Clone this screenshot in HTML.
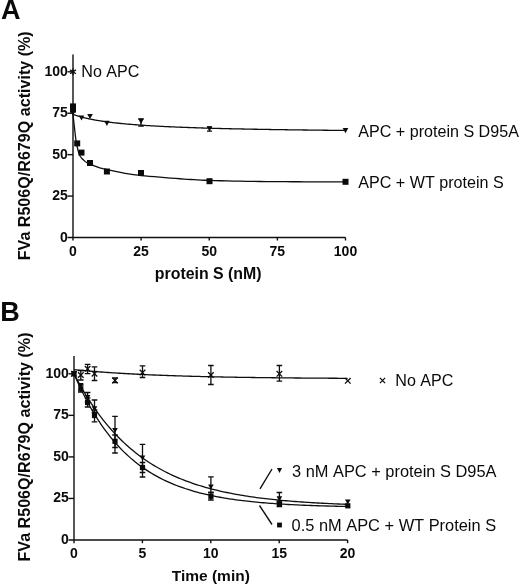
<!DOCTYPE html>
<html lang="en"><head><meta charset="utf-8"><title>FVa R506Q/R679Q activity</title>
<style>
html,body{margin:0;padding:0;background:#fff;}
body{width:520px;height:586px;overflow:hidden;}
svg{display:block;}
text{font-family:"Liberation Sans", Arial, Helvetica, sans-serif;fill:#0a0a0a;}
.b{font-weight:bold;}
.tk{font-weight:bold;font-size:14px;}
.ax{font-weight:bold;font-size:15.9px;}
.yl{font-weight:bold;font-size:16.1px;}
.lg{font-size:16.1px;font-kerning:none;}
.pl{font-weight:bold;font-size:27px;}
.ln{stroke:#101010;stroke-width:1.4;fill:none;stroke-linecap:butt;}
.cv{stroke:#0e0e0e;stroke-width:1.3;fill:none;stroke-linejoin:round;}
.eb{stroke:#0e0e0e;stroke-width:1.3;fill:none;}
.mk{fill:#0a0a0a;stroke:none;}
.xm{stroke:#0e0e0e;stroke-width:1.3;fill:none;}
</style></head><body>
<svg width="520" height="586" viewBox="0 0 520 586">
<rect x="0" y="0" width="520" height="586" fill="#ffffff"/>

<text class="pl" x="0.9" y="19.1">A</text>
<path class="ln" d="M73.0 54.5V240.5M67.5 237.5H345.5"/>
<path class="ln" d="M67.5 196.07H73.0"/>
<path class="ln" d="M67.5 154.65H73.0"/>
<path class="ln" d="M67.5 113.22H73.0"/>
<path class="ln" d="M67.5 71.80H73.0"/>
<path class="ln" d="M141.12 237.5V240.5"/>
<path class="ln" d="M209.25 237.5V240.5"/>
<path class="ln" d="M277.38 237.5V240.5"/>
<path class="ln" d="M345.50 237.5V240.5"/>
<text class="tk" x="67.9" y="241.50" text-anchor="end">0</text>
<text class="tk" x="67.9" y="200.07" text-anchor="end">25</text>
<text class="tk" x="67.9" y="158.65" text-anchor="end">50</text>
<text class="tk" x="67.9" y="117.22" text-anchor="end">75</text>
<text class="tk" x="67.9" y="75.80" text-anchor="end">100</text>
<text class="tk" x="73.00" y="256.4" text-anchor="middle">0</text>
<text class="tk" x="141.12" y="256.4" text-anchor="middle">25</text>
<text class="tk" x="209.25" y="256.4" text-anchor="middle">50</text>
<text class="tk" x="277.38" y="256.4" text-anchor="middle">75</text>
<text class="tk" x="345.50" y="256.4" text-anchor="middle">100</text>
<text class="ax" x="208.2" y="278.9" text-anchor="middle">protein S (nM)</text>
<text class="yl" transform="translate(30 145.8) rotate(-90)" text-anchor="middle">FVa R506Q/R679Q activity (%)</text>
<path class="cv" d="M73.00 114.38L73.01 114.39L73.03 114.39L73.06 114.41L73.11 114.42L73.17 114.45L73.25 114.47L73.33 114.50L73.44 114.54L73.55 114.58L73.68 114.63L73.82 114.68L73.98 114.73L74.15 114.79L74.34 114.85L74.53 114.92L74.74 114.99L74.97 115.07L75.21 115.15L75.46 115.23L75.72 115.32L76.00 115.41L76.30 115.50L76.60 115.60L76.92 115.70L77.26 115.80L77.61 115.91L77.97 116.02L78.34 116.13L78.73 116.25L79.13 116.36L79.55 116.48L79.98 116.61L80.42 116.73L80.88 116.85L81.35 116.98L81.83 117.11L82.33 117.24L82.84 117.37L83.36 117.51L83.90 117.64L84.45 117.78L85.02 117.92L85.60 118.05L86.19 118.19L86.80 118.33L87.42 118.47L88.05 118.61L88.70 118.75L89.36 118.89L90.03 119.03L90.72 119.17L91.42 119.31L92.14 119.46L92.87 119.60L93.61 119.74L94.36 119.88L95.13 120.02L95.92 120.16L96.71 120.30L97.53 120.43L98.35 120.57L99.19 120.71L100.04 120.85L100.90 120.98L101.78 121.12L102.68 121.25L103.58 121.38L104.50 121.52L105.43 121.65L106.38 121.78L107.34 121.91L108.32 122.04L109.30 122.16L110.31 122.29L111.32 122.41L112.35 122.54L113.39 122.66L114.45 122.78L115.52 122.90L116.60 123.02L117.70 123.14L118.81 123.26L119.93 123.37L121.07 123.49L122.22 123.60L123.39 123.72L124.56 123.83L125.76 123.94L126.96 124.04L128.18 124.15L129.41 124.26L130.66 124.36L131.92 124.47L133.20 124.57L134.48 124.67L135.78 124.77L137.10 124.87L138.43 124.97L139.77 125.06L141.12 125.16L142.49 125.25L143.88 125.35L145.27 125.44L146.68 125.53L148.11 125.62L149.55 125.71L151.00 125.79L152.46 125.88L153.94 125.96L155.43 126.05L156.94 126.13L158.46 126.21L159.99 126.29L161.54 126.37L163.10 126.45L164.67 126.53L166.26 126.61L167.86 126.68L169.47 126.76L171.10 126.83L172.74 126.90L174.40 126.97L176.07 127.05L177.75 127.12L179.45 127.18L181.16 127.25L182.88 127.32L184.62 127.39L186.37 127.45L188.13 127.51L189.91 127.58L191.70 127.64L193.51 127.70L195.33 127.76L197.16 127.82L199.00 127.88L200.86 127.94L202.74 128.00L204.62 128.06L206.52 128.11L208.44 128.17L210.37 128.22L212.31 128.28L214.26 128.33L216.23 128.39L218.22 128.44L220.21 128.49L222.22 128.54L224.24 128.59L226.28 128.64L228.33 128.69L230.40 128.74L232.47 128.78L234.57 128.83L236.67 128.88L238.79 128.92L240.92 128.97L243.07 129.01L245.23 129.06L247.40 129.10L249.59 129.14L251.79 129.18L254.00 129.23L256.23 129.27L258.47 129.31L260.73 129.35L262.99 129.39L265.28 129.43L267.57 129.47L269.88 129.50L272.20 129.54L274.54 129.58L276.89 129.62L279.26 129.65L281.63 129.69L284.02 129.72L286.43 129.76L288.85 129.79L291.28 129.83L293.73 129.86L296.18 129.89L298.66 129.93L301.14 129.96L303.64 129.99L306.16 130.02L308.69 130.06L311.23 130.09L313.78 130.12L316.35 130.15L318.93 130.18L321.53 130.21L324.14 130.24L326.76 130.26L329.40 130.29L332.05 130.32L334.71 130.35L337.39 130.38L340.08 130.40L342.78 130.43L345.50 130.46"/>
<path class="cv" d="M73.00 114.20L73.12 115.27L73.27 116.70L73.45 118.40L73.65 120.28L73.86 122.27L74.08 124.28L74.30 126.21L74.50 128.00L74.70 129.71L74.90 131.46L75.10 133.21L75.30 134.95L75.50 136.64L75.70 138.24L75.90 139.74L76.10 141.10L76.29 142.31L76.48 143.39L76.67 144.37L76.85 145.27L77.03 146.11L77.22 146.91L77.41 147.70L77.60 148.50L77.79 149.30L77.99 150.08L78.18 150.84L78.38 151.56L78.58 152.25L78.78 152.91L78.99 153.53L79.20 154.10L79.41 154.62L79.63 155.09L79.85 155.52L80.08 155.91L80.30 156.28L80.53 156.63L80.76 156.96L81.00 157.30L81.23 157.62L81.46 157.91L81.69 158.19L81.92 158.44L82.17 158.70L82.42 158.95L82.70 159.22L83.00 159.50L83.32 159.80L83.66 160.11L84.01 160.43L84.38 160.76L84.76 161.08L85.16 161.40L85.57 161.70L86.00 162.00L86.42 162.27L86.84 162.53L87.25 162.77L87.69 163.01L88.16 163.26L88.70 163.51L89.30 163.79L90.00 164.10L90.80 164.44L91.70 164.82L92.67 165.22L93.69 165.63L94.76 166.04L95.84 166.45L96.93 166.84L98.00 167.20L99.01 167.52L99.95 167.82L100.87 168.09L101.82 168.36L102.85 168.64L104.01 168.92L105.34 169.24L106.90 169.60L108.74 170.01L110.83 170.47L113.11 170.96L115.51 171.46L117.96 171.97L120.41 172.45L122.78 172.90L125.00 173.30L126.94 173.64L128.61 173.93L130.14 174.19L131.69 174.43L133.41 174.66L135.43 174.91L137.91 175.19L141.00 175.50L144.84 175.87L149.36 176.28L154.36 176.71L159.66 177.16L165.06 177.60L170.38 178.03L175.42 178.41L180.00 178.75L184.00 179.04L187.55 179.29L190.84 179.51L194.03 179.71L197.32 179.89L200.87 180.06L204.87 180.23L209.50 180.40L214.81 180.57L220.66 180.73L226.92 180.89L233.47 181.03L240.18 181.17L246.92 181.29L253.57 181.40L260.00 181.50L266.37 181.58L272.88 181.64L279.42 181.68L285.94 181.71L292.33 181.74L298.53 181.76L304.45 181.78L310.00 181.80L315.37 181.82L320.73 181.84L325.93 181.86L330.88 181.87L335.42 181.88L339.46 181.89L342.86 181.89L345.50 181.90"/>
<path class="eb" d="M141.00 118.90V126.20M138.20 118.90H143.80M138.20 126.20H143.80"/>
<path class="eb" d="M209.50 127.20V131.20M207.00 127.20H212.00M207.00 131.20H212.00"/>
<rect class="mk" x="70.00" y="103.40" width="6.0" height="6.0"/>
<rect class="mk" x="70.00" y="106.60" width="6.0" height="6.0"/>
<rect class="mk" x="74.20" y="140.40" width="6.0" height="6.0"/>
<rect class="mk" x="78.50" y="149.60" width="6.0" height="6.0"/>
<rect class="mk" x="87.00" y="160.00" width="6.0" height="6.0"/>
<rect class="mk" x="103.90" y="168.50" width="6.0" height="6.0"/>
<rect class="mk" x="138.00" y="170.00" width="6.0" height="6.0"/>
<rect class="mk" x="206.50" y="178.20" width="6.0" height="6.0"/>
<rect class="mk" x="342.50" y="178.80" width="6.0" height="6.0"/>
<path class="mk" d="M70.20 110.40H75.80L73.00 115.60Z"/>
<path class="mk" d="M78.70 115.40H84.30L81.50 120.60Z"/>
<path class="mk" d="M87.20 113.90H92.80L90.00 119.10Z"/>
<path class="mk" d="M104.10 120.80H109.70L106.90 126.00Z"/>
<path class="mk" d="M138.20 118.70H143.80L141.00 123.90Z"/>
<path class="mk" d="M206.70 126.20H212.30L209.50 131.40Z"/>
<path class="mk" d="M342.70 128.00H348.30L345.50 133.20Z"/>
<path class="xm" d="M73 68.4V75.2M70.1 69.9L75.9 73.7M70.1 73.7L75.9 69.9"/>
<text class="lg" x="81.3" y="77.4">No APC</text>
<text class="lg" x="358.3" y="136.6">APC + protein S D95A</text>
<text class="lg" x="358.3" y="188">APC + WT protein S</text>
<text class="pl" x="0.2" y="320.8">B</text>
<path class="ln" d="M74.0 356V543.2M68.5 540.0H347.6"/>
<path class="ln" d="M68.5 498.45H74.0"/>
<path class="ln" d="M68.5 456.90H74.0"/>
<path class="ln" d="M68.5 415.35H74.0"/>
<path class="ln" d="M68.5 373.80H74.0"/>
<path class="ln" d="M142.40 540.0V543.2"/>
<path class="ln" d="M210.80 540.0V543.2"/>
<path class="ln" d="M279.20 540.0V543.2"/>
<path class="ln" d="M347.60 540.0V543.2"/>
<text class="tk" x="68.9" y="544.00" text-anchor="end">0</text>
<text class="tk" x="68.9" y="502.45" text-anchor="end">25</text>
<text class="tk" x="68.9" y="460.90" text-anchor="end">50</text>
<text class="tk" x="68.9" y="419.35" text-anchor="end">75</text>
<text class="tk" x="68.9" y="377.80" text-anchor="end">100</text>
<text class="tk" x="74.00" y="558.4" text-anchor="middle">0</text>
<text class="tk" x="142.40" y="558.4" text-anchor="middle">5</text>
<text class="tk" x="210.80" y="558.4" text-anchor="middle">10</text>
<text class="tk" x="279.20" y="558.4" text-anchor="middle">15</text>
<text class="tk" x="347.60" y="558.4" text-anchor="middle">20</text>
<text class="ax" style="font-size:15.5px" x="210.8" y="580.6" text-anchor="middle">Time (min)</text>
<text class="yl" transform="translate(30 447) rotate(-90)" text-anchor="middle">FVa R506Q/R679Q activity (%)</text>
<path class="cv" d="M74.00 369.64L76.28 369.87L78.56 370.09L80.84 370.31L83.12 370.51L85.40 370.72L87.68 370.92L89.96 371.11L92.24 371.30L94.52 371.49L96.80 371.67L99.08 371.84L101.36 372.01L103.64 372.18L105.92 372.34L108.20 372.50L110.48 372.66L112.76 372.81L115.04 372.96L117.32 373.10L119.60 373.24L121.88 373.38L124.16 373.51L126.44 373.64L128.72 373.77L131.00 373.89L133.28 374.01L135.56 374.13L137.84 374.25L140.12 374.36L142.40 374.47L144.68 374.57L146.96 374.68L149.24 374.78L151.52 374.88L153.80 374.98L156.08 375.07L158.36 375.16L160.64 375.25L162.92 375.34L165.20 375.42L167.48 375.51L169.76 375.59L172.04 375.67L174.32 375.74L176.60 375.82L178.88 375.89L181.16 375.96L183.44 376.03L185.72 376.10L188.00 376.17L190.28 376.23L192.56 376.29L194.84 376.36L197.12 376.42L199.40 376.47L201.68 376.53L203.96 376.59L206.24 376.64L208.52 376.69L210.80 376.75L213.08 376.80L215.36 376.85L217.64 376.89L219.92 376.94L222.20 376.99L224.48 377.03L226.76 377.07L229.04 377.12L231.32 377.16L233.60 377.20L235.88 377.24L238.16 377.28L240.44 377.31L242.72 377.35L245.00 377.38L247.28 377.42L249.56 377.45L251.84 377.49L254.12 377.52L256.40 377.55L258.68 377.58L260.96 377.61L263.24 377.64L265.52 377.67L267.80 377.69L270.08 377.72L272.36 377.75L274.64 377.77L276.92 377.80L279.20 377.82L281.48 377.85L283.76 377.87L286.04 377.89L288.32 377.91L290.60 377.94L292.88 377.96L295.16 377.98L297.44 378.00L299.72 378.02L302.00 378.04L304.28 378.05L306.56 378.07L308.84 378.09L311.12 378.11L313.40 378.12L315.68 378.14L317.96 378.16L320.24 378.17L322.52 378.19L324.80 378.20L327.08 378.22L329.36 378.23L331.64 378.24L333.92 378.26L336.20 378.27L338.48 378.28L340.76 378.30L343.04 378.31L345.32 378.32L347.60 378.33"/>
<path class="cv" d="M74.00 373.80L76.28 378.16L78.56 382.37L80.84 386.45L83.12 390.40L85.40 394.21L87.68 397.90L89.96 401.47L92.24 404.92L94.52 408.26L96.80 411.49L99.08 414.61L101.36 417.63L103.64 420.56L105.92 423.38L108.20 426.12L110.48 428.76L112.76 431.32L115.04 433.79L117.32 436.18L119.60 438.50L121.88 440.73L124.16 442.90L126.44 444.99L128.72 447.02L131.00 448.98L133.28 450.87L135.56 452.70L137.84 454.47L140.12 456.19L142.40 457.85L144.68 459.45L146.96 461.00L149.24 462.50L151.52 463.95L153.80 465.36L156.08 466.71L158.36 468.03L160.64 469.30L162.92 470.52L165.20 471.71L167.48 472.86L169.76 473.97L172.04 475.05L174.32 476.09L176.60 477.09L178.88 478.07L181.16 479.01L183.44 479.92L185.72 480.80L188.00 481.65L190.28 482.47L192.56 483.27L194.84 484.04L197.12 484.78L199.40 485.50L201.68 486.20L203.96 486.87L206.24 487.53L208.52 488.16L210.80 488.77L213.08 489.36L215.36 489.93L217.64 490.48L219.92 491.01L222.20 491.53L224.48 492.03L226.76 492.51L229.04 492.98L231.32 493.43L233.60 493.87L235.88 494.29L238.16 494.70L240.44 495.09L242.72 495.48L245.00 495.85L247.28 496.20L249.56 496.55L251.84 496.88L254.12 497.21L256.40 497.52L258.68 497.82L260.96 498.12L263.24 498.40L265.52 498.67L267.80 498.94L270.08 499.20L272.36 499.44L274.64 499.68L276.92 499.92L279.20 500.14L281.48 500.36L283.76 500.57L286.04 500.77L288.32 500.97L290.60 501.16L292.88 501.34L295.16 501.52L297.44 501.69L299.72 501.86L302.00 502.02L304.28 502.17L306.56 502.32L308.84 502.47L311.12 502.61L313.40 502.74L315.68 502.88L317.96 503.00L320.24 503.13L322.52 503.25L324.80 503.36L327.08 503.47L329.36 503.58L331.64 503.68L333.92 503.79L336.20 503.88L338.48 503.98L340.76 504.07L343.04 504.16L345.32 504.24L347.60 504.32"/>
<path class="cv" d="M74.00 373.80L76.28 379.05L78.56 384.09L80.84 388.93L83.12 393.58L85.40 398.05L87.68 402.35L89.96 406.47L92.24 410.44L94.52 414.25L96.80 417.91L99.08 421.42L101.36 424.80L103.64 428.05L105.92 431.17L108.20 434.16L110.48 437.04L112.76 439.81L115.04 442.47L117.32 445.02L119.60 447.47L121.88 449.83L124.16 452.10L126.44 454.27L128.72 456.36L131.00 458.37L133.28 460.30L135.56 462.16L137.84 463.94L140.12 465.65L142.40 467.29L144.68 468.87L146.96 470.39L149.24 471.85L151.52 473.25L153.80 474.60L156.08 475.89L158.36 477.14L160.64 478.33L162.92 479.48L165.20 480.58L167.48 481.64L169.76 482.66L172.04 483.63L174.32 484.57L176.60 485.48L178.88 486.34L181.16 487.18L183.44 487.98L185.72 488.75L188.00 489.48L190.28 490.19L192.56 490.88L194.84 491.53L197.12 492.16L199.40 492.77L201.68 493.35L203.96 493.91L206.24 494.44L208.52 494.96L210.80 495.45L213.08 495.93L215.36 496.39L217.64 496.83L219.92 497.25L222.20 497.65L224.48 498.04L226.76 498.42L229.04 498.78L231.32 499.12L233.60 499.46L235.88 499.77L238.16 500.08L240.44 500.38L242.72 500.66L245.00 500.93L247.28 501.19L249.56 501.44L251.84 501.68L254.12 501.91L256.40 502.14L258.68 502.35L260.96 502.56L263.24 502.75L265.52 502.94L267.80 503.13L270.08 503.30L272.36 503.47L274.64 503.63L276.92 503.79L279.20 503.94L281.48 504.08L283.76 504.22L286.04 504.35L288.32 504.48L290.60 504.60L292.88 504.72L295.16 504.83L297.44 504.94L299.72 505.04L302.00 505.14L304.28 505.24L306.56 505.33L308.84 505.42L311.12 505.50L313.40 505.58L315.68 505.66L317.96 505.74L320.24 505.81L322.52 505.88L324.80 505.95L327.08 506.01L329.36 506.07L331.64 506.13L333.92 506.19L336.20 506.25L338.48 506.30L340.76 506.35L343.04 506.40L345.32 506.44L347.60 506.49"/>
<path class="eb" d="M80.80 370.50V380.00M78.00 370.50H83.60M78.00 380.00H83.60"/>
<path class="eb" d="M87.60 364.30V373.70M84.80 364.30H90.40M84.80 373.70H90.40"/>
<path class="eb" d="M94.50 366.80V380.50M91.70 366.80H97.30M91.70 380.50H97.30"/>
<path class="eb" d="M115.00 378.00V382.60M112.20 378.00H117.80M112.20 382.60H117.80"/>
<path class="eb" d="M142.50 365.80V377.50M139.70 365.80H145.30M139.70 377.50H145.30"/>
<path class="eb" d="M210.90 365.50V384.50M208.10 365.50H213.70M208.10 384.50H213.70"/>
<path class="eb" d="M279.40 365.50V381.20M276.60 365.50H282.20M276.60 381.20H282.20"/>
<path class="xm" d="M71.20 371.00L76.80 376.60M71.20 376.60L76.80 371.00"/>
<path class="xm" d="M78.00 372.20L83.60 377.80M78.00 377.80L83.60 372.20"/>
<path class="xm" d="M84.80 366.00L90.40 371.60M84.80 371.60L90.40 366.00"/>
<path class="xm" d="M91.70 370.90L97.30 376.50M91.70 376.50L97.30 370.90"/>
<path class="xm" d="M112.20 377.60L117.80 383.20M112.20 383.20L117.80 377.60"/>
<path class="xm" d="M139.70 369.80L145.30 375.40M139.70 375.40L145.30 369.80"/>
<path class="xm" d="M208.10 372.20L213.70 377.80M208.10 377.80L213.70 372.20"/>
<path class="xm" d="M276.60 371.00L282.20 376.60M276.60 376.60L282.20 371.00"/>
<path class="xm" d="M345.00 378.00L350.60 383.60M345.00 383.60L350.60 378.00"/>
<path class="eb" d="M87.60 392.50V402.00M84.80 392.50H90.40M84.80 402.00H90.40"/>
<path class="eb" d="M94.50 400.00V412.50M91.70 400.00H97.30M91.70 412.50H97.30"/>
<path class="eb" d="M115.00 416.30V447.50M112.20 416.30H117.80M112.20 447.50H117.80"/>
<path class="eb" d="M142.50 444.30V472.50M139.70 444.30H145.30M139.70 472.50H145.30"/>
<path class="eb" d="M210.90 476.80V492.50M208.10 476.80H213.70M208.10 492.50H213.70"/>
<path class="eb" d="M279.40 492.50V502.50M276.60 492.50H282.20M276.60 502.50H282.20"/>
<path class="eb" d="M80.80 385.00V392.00M78.00 385.00H83.60M78.00 392.00H83.60"/>
<path class="eb" d="M87.60 398.00V407.00M84.80 398.00H90.40M84.80 407.00H90.40"/>
<path class="eb" d="M94.50 410.00V421.80M91.70 410.00H97.30M91.70 421.80H97.30"/>
<path class="eb" d="M115.00 435.00V453.00M112.20 435.00H117.80M112.20 453.00H117.80"/>
<path class="eb" d="M142.50 462.50V477.00M139.70 462.50H145.30M139.70 477.00H145.30"/>
<path class="eb" d="M210.90 492.50V500.00M208.10 492.50H213.70M208.10 500.00H213.70"/>
<path class="eb" d="M279.40 501.00V506.50M276.60 501.00H282.20M276.60 506.50H282.20"/>
<path class="mk" d="M71.20 371.20H76.80L74.00 376.40Z"/>
<path class="mk" d="M78.00 383.00H83.60L80.80 388.20Z"/>
<path class="mk" d="M84.80 394.90H90.40L87.60 400.10Z"/>
<path class="mk" d="M91.70 406.20H97.30L94.50 411.40Z"/>
<path class="mk" d="M112.20 427.90H117.80L115.00 433.10Z"/>
<path class="mk" d="M139.70 455.40H145.30L142.50 460.60Z"/>
<path class="mk" d="M208.10 484.40H213.70L210.90 489.60Z"/>
<path class="mk" d="M276.60 496.20H282.20L279.40 501.40Z"/>
<path class="mk" d="M345.00 499.40H350.60L347.80 504.60Z"/>
<rect class="mk" x="71.40" y="371.20" width="5.2" height="5.2"/>
<rect class="mk" x="78.20" y="386.20" width="5.2" height="5.2"/>
<rect class="mk" x="85.00" y="399.90" width="5.2" height="5.2"/>
<rect class="mk" x="91.90" y="412.90" width="5.2" height="5.2"/>
<rect class="mk" x="112.40" y="438.70" width="5.2" height="5.2"/>
<rect class="mk" x="139.90" y="464.90" width="5.2" height="5.2"/>
<rect class="mk" x="208.30" y="493.70" width="5.2" height="5.2"/>
<rect class="mk" x="276.80" y="501.20" width="5.2" height="5.2"/>
<rect class="mk" x="345.20" y="503.20" width="5.2" height="5.2"/>
<path class="xm" d="M379.90 377.90L385.10 383.10M379.90 383.10L385.10 377.90"/>
<text class="lg" x="395.3" y="386.4">No APC</text>
<path class="ln" d="M260 488.8L272 469M259.5 505.5L272 524.5"/>
<path class="mk" d="M277.00 468.10H282.00L279.50 472.90Z"/>
<rect class="mk" x="277.10" y="522.60" width="4.8" height="4.8"/>
<text class="lg" style="font-size:16.4px" x="292" y="476.6">3 nM APC + protein S D95A</text>
<text class="lg" style="font-size:16.4px" x="291.6" y="530.6">0.5 nM APC + WT Protein S</text>
</svg></body></html>
